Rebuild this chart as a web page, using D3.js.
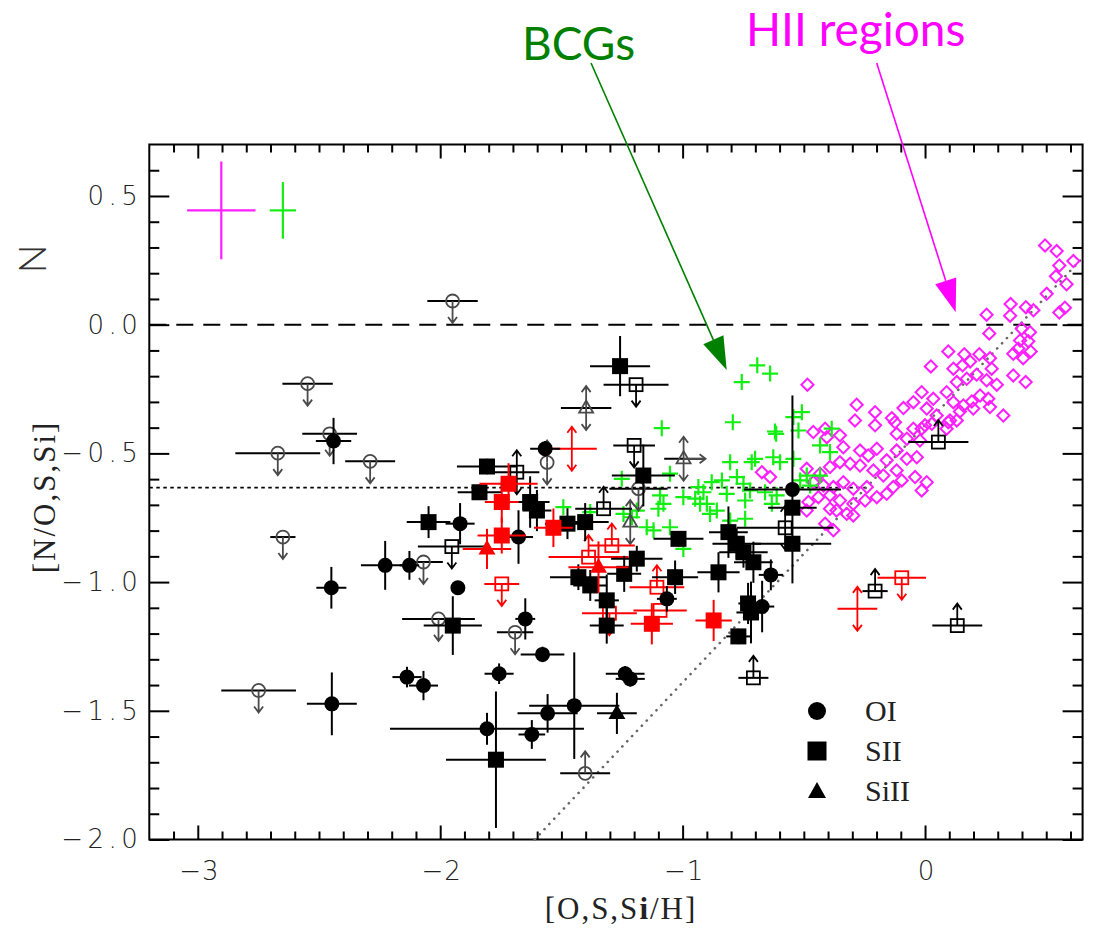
<!DOCTYPE html>
<html>
<head>
<meta charset="utf-8">
<script src="https://cdn.jsdelivr.net/npm/d3@7"></script>
<style>
  body { margin: 0; background: #fff; }
  svg { display: block; }
</style>
</head>
<body>
<svg id="chart" width="1097" height="930"></svg>
<script>
// ---- axes ----
const xDomain = [-3.2, 0.65];
const yDomain = [-2.0, 0.7];
const xTicks = [-3, -2, -1, 0];
const yTicks = [0.5, 0.0, -0.5, -1.0, -1.5, -2.0];

// ---- reference lines ----
const solarLevel = 0.0;            // [N/O] = 0
const primaryPlateau = -0.633;     // primary nitrogen plateau
const secondarySlope = 1.0;        // [N/O] = [O/H] + offset
const secondaryOffset = -0.39;

// ---- typical errors of the comparison samples: [x, y, xerr, yerr] ----
const hiiTypicalErr = [-2.903, 0.444, 0.141, 0.19];
const bcgTypicalErr = [-2.649, 0.444, 0.054, 0.11];

// ---- detections: [O,S,Si/H], [N/O,S,Si], xerr, yerr ----
const oiDetections = [
  [-2.440, -0.452, 0.073, 0.090], [-1.918, -0.773, 0.060, 0.080],
  [-2.227, -0.935, 0.100, 0.095], [-2.127, -0.935, 0.040, 0.056],
  [-2.449, -1.022, 0.062, 0.081], [-1.927, -1.022, 0.000, 0.000],
  [-2.447, -1.473, 0.103, 0.122], [-2.137, -1.369, 0.060, 0.040],
  [-2.069, -1.402, 0.060, 0.057], [-1.578, -1.281, 0.090, 0.030],
  [-1.757, -1.356, 0.060, 0.040], [-1.807, -1.570, 0.400, 0.062],
  [-1.622, -1.592, 0.055, 0.056], [-1.557, -1.510, 0.124, 0.075],
  [-1.447, -1.480, 0.186, 0.207], [-1.237, -1.356, 0.080, 0.030],
  [-1.216, -1.376, 0.060, 0.030], [-1.567, -0.482, 0.062, 0.030],
  [-1.677, -0.825, 0.060, 0.104], [-1.649, -1.143, 0.041, 0.080],
  [-1.065, -1.065, 0.041, 0.050], [-0.547, -0.640, 0.200, 0.365],
  [-0.636, -0.972, 0.050, 0.060], [-0.672, -1.095, 0.050, 0.100]
];
const siiDetections = [
  [-2.048, -0.767, 0.090, 0.062], [-1.948, -1.169, 0.120, 0.114],
  [-1.770, -1.690, 0.206, 0.265], [-1.258, -0.161, 0.124, 0.117],
  [-1.807, -0.551, 0.124, 0.030], [-1.162, -0.586, 0.130, 0.120],
  [-1.838, -0.651, 0.090, 0.030], [-1.629, -0.689, 0.080, 0.100],
  [-1.601, -0.722, 0.060, 0.080], [-1.475, -0.773, 0.093, 0.060],
  [-1.402, -0.767, 0.097, 0.074], [-1.189, -0.909, 0.106, 0.050],
  [-1.241, -0.968, 0.070, 0.070], [-1.430, -0.981, 0.117, 0.050],
  [-1.381, -1.013, 0.070, 0.060], [-1.313, -1.071, 0.050, 0.100],
  [-1.031, -0.981, 0.095, 0.065], [-1.313, -1.169, 0.070, 0.070],
  [-0.770, -1.211, 0.050, 0.030], [-1.017, -0.832, 0.103, 0.030],
  [-0.852, -0.962, 0.087, 0.078], [-0.811, -0.806, 0.080, 0.100],
  [-0.777, -0.851, 0.100, 0.060], [-0.749, -0.884, 0.100, 0.060],
  [-0.708, -0.923, 0.080, 0.080], [-0.547, -0.711, 0.100, 0.030],
  [-0.547, -0.851, 0.160, 0.030], [-0.730, -1.083, 0.040, 0.080],
  [-0.718, -1.118, 0.060, 0.120]
];
const siiiDetections = [
  [-1.271, -1.510, 0.082, 0.080]
];
const siiDetectionsRed = [
  [-1.718, -0.618, 0.120, 0.080], [-1.746, -0.689, 0.070, 0.080],
  [-1.533, -0.789, 0.080, 0.075], [-1.746, -0.819, 0.100, 0.070],
  [-1.127, -1.162, 0.087, 0.080], [-0.872, -1.149, 0.075, 0.080]
];
const siiiDetectionsRed = [
  [-1.807, -0.871, 0.100, 0.078], [-1.347, -0.942, 0.124, 0.100]
];

// ---- limits: x, y, xerr, direction of the limit arrow ----
const oiLimits = [
  [-1.949, 0.092, 0.104, "down"], [-2.547, -0.229, 0.104, "down"],
  [-2.456, -0.424, 0.113, "down"], [-2.670, -0.499, 0.175, "down"],
  [-2.289, -0.531, 0.103, "down"], [-2.649, -0.825, 0.052, "down"],
  [-2.069, -0.922, 0.080, "down"], [-2.007, -1.143, 0.150, "down"],
  [-2.749, -1.421, 0.154, "down"], [-1.691, -1.195, 0.075, "down"],
  [-1.402, -1.743, 0.103, "up"], [-1.559, -0.535, 0.000, "both"],
  [-1.182, -0.637, 0.120, "down"]
];
const siiLimits = [
  [-1.192, -0.233, 0.134, "down"], [-1.200, -0.469, 0.086, "down"],
  [-1.326, -0.715, 0.117, "up"], [-1.684, -0.573, 0.093, "both"],
  [-1.952, -0.862, 0.140, "down"], [0.055, -0.456, 0.124, "up"],
  [-0.577, -0.789, 0.200, "both"], [-0.206, -1.035, 0.052, "up"],
  [0.133, -1.169, 0.103, "up"], [-0.708, -1.372, 0.062, "up"]
];
const siiiLimits = [
  [-1.398, -0.324, 0.104, "both"], [-0.996, -0.521, 0.080, "both+right"],
  [-1.216, -0.767, 0.000, "both"]
];
const siiLimitsRed = [
  [-1.292, -0.858, 0.095, "up"], [-1.388, -0.903, 0.165, "up"],
  [-1.106, -1.020, 0.113, "up"], [-1.093, -1.110, 0.110, "none"],
  [-1.302, -1.121, 0.113, "down"], [-0.096, -0.983, 0.100, "down"],
  [-1.746, -1.007, 0.072, "down"]
];
const bareLimitsRed = [
  [-1.457, -0.482, 0.103, "both"], [-0.279, -1.104, 0.082, "both"]
];

// ---- blue compact galaxies: [O/H], [N/O] ----
const bcgs = [
  [-0.756, -0.223], [-0.692, -0.158], [-0.639, -0.190], [-1.086, -0.402],
  [-0.793, -0.379], [-0.619, -0.415], [-0.508, -0.340], [-0.543, -0.359],
  [-0.385, -0.404], [-0.804, -0.534], [-0.715, -0.534], [-1.251, -0.599],
  [-1.052, -0.579], [-0.935, -0.631], [-0.914, -0.651], [-0.880, -0.612],
  [-0.838, -0.605], [-0.776, -0.592], [-0.749, -0.618], [-0.722, -0.644],
  [-1.093, -0.663], [-1.079, -0.696], [-1.100, -0.715], [-0.997, -0.670],
  [-0.948, -0.676], [-0.928, -0.696], [-0.900, -0.696], [-0.887, -0.735],
  [-0.859, -0.722], [-0.818, -0.657], [-0.804, -0.761], [-0.742, -0.754],
  [-1.244, -0.735], [-1.209, -0.748], [-1.189, -0.722], [-1.148, -0.787],
  [-1.120, -0.799], [-1.052, -0.787], [-0.997, -0.871], [-1.492, -0.709],
  [-1.381, -0.728], [-0.614, -0.424], [-0.522, -0.411], [-0.433, -0.469],
  [-0.392, -0.495], [-0.701, -0.521], [-0.626, -0.515], [-0.598, -0.534],
  [-0.543, -0.521], [-0.488, -0.586], [-0.433, -0.586], [-0.660, -0.651],
  [-0.612, -0.663], [-0.632, -0.696], [-0.742, -0.683], [-0.515, -0.605],
  [-0.474, -0.625]
];

// ---- HII regions: [O/H], [N/O] ----
const hiiRegions = [
  [0.495, 0.308], [0.543, 0.286], [0.612, 0.247], [0.554, 0.230], [0.540, 0.188],
  [0.584, 0.157], [0.502, 0.120], [0.353, 0.080], [0.416, 0.068], [0.447, 0.056],
  [0.577, 0.066], [0.554, 0.047], [0.254, 0.039], [0.351, 0.035], [0.399, -0.016],
  [0.433, -0.029], [0.265, -0.034], [0.392, -0.061], [0.426, -0.064], [0.385, -0.093],
  [0.436, -0.104], [0.364, -0.113], [0.405, -0.130], [0.096, -0.104], [0.162, -0.115],
  [0.224, -0.115], [0.186, -0.143], [0.268, -0.130], [0.024, -0.162], [0.117, -0.171],
  [0.155, -0.158], [0.213, -0.194], [0.275, -0.171], [0.364, -0.197], [0.415, -0.223],
  [0.131, -0.223], [0.172, -0.210], [0.254, -0.216], [0.296, -0.233], [-0.485, -0.233],
  [-0.014, -0.262], [0.034, -0.288], [0.089, -0.262], [0.117, -0.301], [0.193, -0.298],
  [0.227, -0.275], [0.261, -0.288], [0.268, -0.320], [0.323, -0.353], [-0.048, -0.301],
  [-0.089, -0.324], [-0.137, -0.363], [-0.206, -0.340], [-0.282, -0.311], [-0.289, -0.372],
  [-0.206, -0.391], [0.158, -0.314], [0.144, -0.337], [0.199, -0.326], [0.007, -0.326],
  [0.048, -0.353], [0.103, -0.372], [0.028, -0.385], [-0.014, -0.404], [-0.048, -0.404],
  [-0.117, -0.424], [0.089, -0.404], [0.131, -0.372], [-0.412, -0.404], [-0.461, -0.417],
  [-0.124, -0.379], [0.000, -0.391], [0.096, -0.379], [-0.075, -0.443], [-0.021, -0.450],
  [-0.405, -0.437], [-0.351, -0.430], [-0.337, -0.476], [-0.268, -0.489], [-0.234, -0.508],
  [-0.199, -0.482], [-0.158, -0.527], [-0.117, -0.489], [-0.075, -0.521], [-0.034, -0.515],
  [-0.117, -0.566], [-0.096, -0.605], [-0.041, -0.592], [0.007, -0.612], [-0.014, -0.644],
  [-0.131, -0.631], [-0.172, -0.586], [-0.213, -0.566], [-0.268, -0.547], [-0.309, -0.540],
  [-0.351, -0.534], [-0.392, -0.553], [-0.433, -0.579], [-0.488, -0.560], [-0.673, -0.573],
  [-0.639, -0.592], [-0.461, -0.612], [-0.419, -0.625], [-0.378, -0.631], [-0.337, -0.612],
  [-0.296, -0.637], [-0.240, -0.631], [-0.199, -0.670], [-0.158, -0.657], [-0.247, -0.683],
  [-0.296, -0.696], [-0.351, -0.683], [-0.392, -0.663], [-0.440, -0.670], [-0.481, -0.689],
  [-0.488, -0.722], [-0.392, -0.715], [-0.365, -0.722], [-0.296, -0.741], [-0.412, -0.773],
  [-0.378, -0.799], [-0.323, -0.735]
];

const legendItems = ["OI", "SII", "SiII"];

// =====================================================================
const svg = d3.select("#chart");
const frame = { left: 149.3, right: 1082.6, top: 144.5, bottom: 839.5 };
const x = d3.scaleLinear().domain(xDomain).range([frame.left, frame.right]);
const y = d3.scaleLinear().domain(yDomain).range([frame.bottom, frame.top]);

const BLACK = "#000", GRAY = "#4a4a4a", RED = "#ff0000";
const GREEN = "#13ee13", MAGENTA = "#ff1eff";
const tickFont = "'DejaVu Sans', 'Liberation Sans', sans-serif";
const serif = "'Liberation Serif', 'DejaVu Serif', serif";

// ---- frame and ticks ----
const fmtX = d => (d < 0 ? "\u2212" : "") + Math.abs(d);
const fmtY = d => (d < 0 ? "\u2212" : "") + Math.abs(d).toFixed(1);
const xMinor = d3.range(-31, 7).filter(i => i % 10 !== 0).map(i => i / 10);
const yMinor = d3.range(-19, 7).filter(i => i % 5 !== 0).map(i => i / 10);

function styleAxis(spacing) {
  return g => {
    g.select(".domain").remove();
    g.selectAll(".tick line").attr("stroke", BLACK).attr("stroke-width", 2);
    g.selectAll(".tick text")
      .attr("fill", "#222")
      .style("font-family", tickFont)
      .style("font-size", "26px")
      .style("font-weight", 200)
      .style("letter-spacing", spacing);
  };
}

svg.append("g").attr("transform", `translate(0,${frame.bottom})`)
  .call(d3.axisBottom(x).tickValues(xTicks).tickSize(-14).tickPadding(22).tickFormat(fmtX))
  .call(styleAxis("1px"))
  .call(g => g.selectAll(".tick text").attr("dx", "1px"));
svg.append("g").attr("transform", `translate(0,${frame.bottom})`)
  .call(d3.axisBottom(x).tickValues(xMinor).tickSize(-8).tickFormat(""))
  .call(styleAxis("0px"));
svg.append("g").attr("transform", `translate(0,${frame.top})`)
  .call(d3.axisTop(x).tickValues(xTicks).tickSize(-14).tickFormat(""))
  .call(styleAxis("0px"));
svg.append("g").attr("transform", `translate(0,${frame.top})`)
  .call(d3.axisTop(x).tickValues(xMinor).tickSize(-8).tickFormat(""))
  .call(styleAxis("0px"));
svg.append("g").attr("transform", `translate(${frame.left},0)`)
  .call(d3.axisLeft(y).tickValues(yTicks).tickSize(-20).tickPadding(7).tickFormat(fmtY))
  .call(styleAxis("4.5px"));
svg.append("g").attr("transform", `translate(${frame.left},0)`)
  .call(d3.axisLeft(y).tickValues(yMinor).tickSize(-10).tickFormat(""))
  .call(styleAxis("0px"));
svg.append("g").attr("transform", `translate(${frame.right},0)`)
  .call(d3.axisRight(y).tickValues(yTicks).tickSize(-20).tickFormat(""))
  .call(styleAxis("0px"));
svg.append("g").attr("transform", `translate(${frame.right},0)`)
  .call(d3.axisRight(y).tickValues(yMinor).tickSize(-10).tickFormat(""))
  .call(styleAxis("0px"));

svg.append("rect")
  .attr("x", frame.left).attr("y", frame.top)
  .attr("width", frame.right - frame.left).attr("height", frame.bottom - frame.top)
  .attr("fill", "none").attr("stroke", BLACK).attr("stroke-width", 2);

// ---- axis titles ----
const xTitle = svg.append("text")
  .attr("x", 621).attr("y", 919).attr("text-anchor", "middle")
  .style("font-family", serif).style("font-size", "31px").style("letter-spacing", "2px")
  .attr("fill", "#222");
xTitle.append("tspan").text("[O,S,S");
xTitle.append("tspan").style("font-weight", "bold").text("i");
xTitle.append("tspan").text("/H]");

svg.append("text")
  .attr("transform", "translate(55,497) rotate(-90)")
  .attr("text-anchor", "middle")
  .style("font-family", serif).style("font-size", "31px").style("letter-spacing", "2px")
  .attr("fill", "#222").text("[N/O,S,Si]");
svg.append("text")
  .attr("transform", "translate(46,259) rotate(-90)")
  .attr("text-anchor", "middle")
  .style("font-family", "Lato, 'DejaVu Sans', sans-serif").style("font-size", "38px")
  .style("font-weight", 300)
  .attr("fill", "#333").text("N");

// ---- reference lines ----
const plot = svg.append("g");
plot.append("line")
  .attr("x1", x(xDomain[0])).attr("x2", x(xDomain[1]))
  .attr("y1", y(solarLevel)).attr("y2", y(solarLevel))
  .attr("stroke", BLACK).attr("stroke-width", 2).attr("stroke-dasharray", "17 10");
const plateauEnd = (primaryPlateau - secondaryOffset) / secondarySlope;
plot.append("line")
  .attr("x1", x(xDomain[0])).attr("x2", x(plateauEnd))
  .attr("y1", y(primaryPlateau)).attr("y2", y(primaryPlateau))
  .attr("stroke", BLACK).attr("stroke-width", 1.8).attr("stroke-dasharray", "3.5 3.5");
const diagStart = (yDomain[0] - secondaryOffset) / secondarySlope;
plot.append("line")
  .attr("x1", x(diagStart)).attr("y1", y(yDomain[0]))
  .attr("x2", x(xDomain[1])).attr("y2", y(secondarySlope * xDomain[1] + secondaryOffset))
  .attr("stroke", "#666").attr("stroke-width", 2.6)
  .attr("stroke-linecap", "round").attr("stroke-dasharray", "0.1 7");

// ---- typical error crosses ----
function errCross(g, d, color, w) {
  const [vx, vy, ex, ey] = d;
  if (ex > 0) g.append("line").attr("x1", x(vx - ex)).attr("x2", x(vx + ex))
    .attr("y1", y(vy)).attr("y2", y(vy)).attr("stroke", color).attr("stroke-width", w);
  if (ey > 0) g.append("line").attr("x1", x(vx)).attr("x2", x(vx))
    .attr("y1", y(vy - ey)).attr("y2", y(vy + ey)).attr("stroke", color).attr("stroke-width", w);
}
errCross(plot, hiiTypicalErr, MAGENTA, 2.2);
errCross(plot, bcgTypicalErr, GREEN, 2.2);

// ---- HII regions (open diamonds) ----
plot.append("g").selectAll("rect").data(hiiRegions).join("rect")
  .attr("x", -4.3).attr("y", -4.3).attr("width", 8.6).attr("height", 8.6)
  .attr("transform", d => `translate(${x(d[0])},${y(d[1])}) rotate(45)`)
  .attr("fill", "none").attr("stroke", MAGENTA).attr("stroke-width", 2);

// ---- BCGs (plus signs) ----
const bcgG = plot.append("g").attr("stroke", GREEN).attr("stroke-width", 2.2);
bcgG.selectAll("path").data(bcgs).join("path")
  .attr("d", d => {
    const cx = x(d[0]), cy = y(d[1]);
    return `M${cx - 8},${cy}H${cx + 8}M${cx},${cy - 8}V${cy + 8}`;
  });

// ---- marker helpers ----
function shape(g, kind, cx, cy, color, filled) {
  if (kind === "circle") {
    g.append("circle").attr("cx", cx).attr("cy", cy).attr("r", filled ? 7.5 : 6.5)
      .attr("fill", filled ? color : "none").attr("stroke", color)
      .attr("stroke-width", filled ? 0 : 1.8);
  } else if (kind === "square") {
    const s = filled ? 16 : 13;
    g.append("rect").attr("x", cx - s / 2).attr("y", cy - s / 2).attr("width", s).attr("height", s)
      .attr("fill", filled ? color : "none").attr("stroke", color)
      .attr("stroke-width", filled ? 0 : 1.8);
  } else if (kind === "triangle") {
    const s = filled ? 17 : 14, h = s * 0.866;
    g.append("path")
      .attr("d", `M${cx},${cy - h * 0.62}L${cx + s / 2},${cy + h * 0.38}L${cx - s / 2},${cy + h * 0.38}Z`)
      .attr("fill", filled ? color : "none").attr("stroke", color)
      .attr("stroke-width", filled ? 0 : 1.8);
  }
}
function limitArrow(g, cx, cy, dx, dy, color) {
  const len = 22, head = 6, half = 4.5;
  const ex = cx + dx * len, ey = cy + dy * len;
  g.append("path")
    .attr("d", `M${cx},${cy}L${ex},${ey}` +
      `M${ex - dx * head - dy * half},${ey - dy * head - dx * half}L${ex},${ey}` +
      `L${ex - dx * head + dy * half},${ey - dy * head + dx * half}`)
    .attr("fill", "none").attr("stroke", color).attr("stroke-width", 1.8);
}
function detections(data, kind, color) {
  const g = plot.append("g");
  data.forEach(d => {
    errCross(g, d, color, 2);
    shape(g, kind, x(d[0]), y(d[1]), color, true);
  });
}
function limits(data, kind, color) {
  const g = plot.append("g");
  data.forEach(d => {
    const [vx, vy, ex, dir] = d;
    const cx = x(vx), cy = y(vy);
    errCross(g, [vx, vy, ex, 0], color === GRAY ? BLACK : color, 2);
    if (dir.includes("down") || dir.includes("both")) limitArrow(g, cx, cy, 0, 1, color);
    if (dir.includes("up") || dir.includes("both")) limitArrow(g, cx, cy, 0, -1, color);
    if (dir.includes("right")) limitArrow(g, cx, cy, 1, 0, color);
    if (kind) shape(g, kind, cx, cy, color, false);
  });
}

limits(oiLimits, "circle", GRAY);
limits(siiiLimits, "triangle", GRAY);
limits(siiLimits, "square", BLACK);
limits(bareLimitsRed, null, RED);
limits(siiLimitsRed, "square", RED);
detections(oiDetections, "circle", BLACK);
detections(siiDetections, "square", BLACK);
detections(siiiDetections, "triangle", BLACK);
detections(siiDetectionsRed, "square", RED);
detections(siiiDetectionsRed, "triangle", RED);

// ---- legend ----
const legend = svg.append("g").attr("transform", "translate(817,711)");
const legendKinds = ["circle", "square", "triangle"];
legendItems.forEach((label, i) => {
  const gy = i * 40;
  const lg = legend.append("g");
  if (legendKinds[i] === "circle") lg.append("circle").attr("cx", 0).attr("cy", gy).attr("r", 9);
  if (legendKinds[i] === "square") lg.append("rect").attr("x", -9.5).attr("y", gy - 9.5).attr("width", 19).attr("height", 19);
  if (legendKinds[i] === "triangle") lg.append("path").attr("d", `M0,${gy - 9}L9,${gy + 7}L-9,${gy + 7}Z`);
  lg.append("text").attr("x", 48).attr("y", gy + 10)
    .style("font-family", serif).style("font-size", "30px").attr("fill", "#222").text(label);
});

// ---- annotations ----
function annotation(label, color, tx, ty, start, tip) {
  svg.append("text").attr("x", tx).attr("y", ty)
    .style("font-family", "Lato, 'Open Sans', sans-serif").style("font-size", "46px")
    .attr("fill", color).text(label);
  const dx = tip[0] - start[0], dy = tip[1] - start[1];
  const L = Math.hypot(dx, dy), ux = dx / L, uy = dy / L;
  const headLen = 33, headHalf = 11;
  const bx = tip[0] - ux * headLen, by = tip[1] - uy * headLen;
  svg.append("line").attr("x1", start[0]).attr("y1", start[1]).attr("x2", bx).attr("y2", by)
    .attr("stroke", color).attr("stroke-width", 1.6);
  svg.append("path")
    .attr("d", `M${tip[0]},${tip[1]}L${bx - uy * headHalf},${by + ux * headHalf}L${bx + uy * headHalf},${by - ux * headHalf}Z`)
    .attr("fill", color);
}
annotation("BCGs", "#008000", 522, 60, [591, 63], [726.7, 370]);
annotation("HII regions", "#ff00ff", 746, 46, [876.7, 63], [955.7, 312.3]);
</script>
</body>
</html>
